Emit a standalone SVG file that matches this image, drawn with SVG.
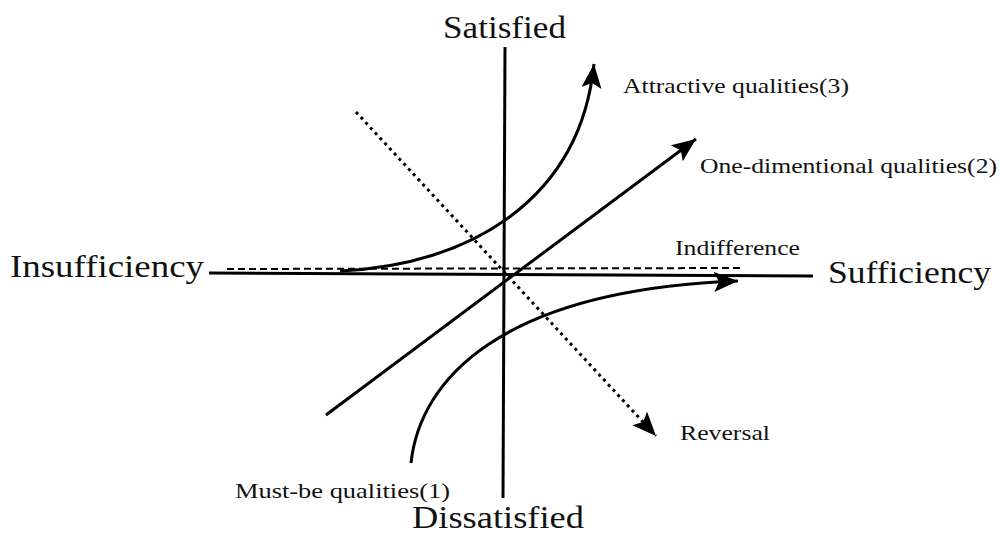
<svg xmlns="http://www.w3.org/2000/svg" width="1000" height="535" viewBox="0 0 1000 535">
  <style>
    .big { font-size: 31px; fill: #111; }
    .small { font-size: 22px; fill: #111; }
    .ax { stroke: #000; stroke-width: 3; fill: none; }
    .curve { stroke: #000; stroke-width: 3; fill: none; }
    .dash { stroke: #000; stroke-width: 2; fill: none; stroke-dasharray: 7 4; }
    .dot { stroke: #000; stroke-width: 3; fill: none; stroke-dasharray: 3 4; }
  </style>
  <defs>
    <marker id="arrow" markerUnits="userSpaceOnUse" markerWidth="26" markerHeight="22" refX="24" refY="10" orient="auto" viewBox="0 0 26 22">
      <path d="M0,0 L24,10 L0,20 L5,10 Z" fill="#000" stroke="none"/>
    </marker>
  </defs>
  <rect width="1000" height="535" fill="#fff"/>
  <g id="connectors">
    <line id="axis-v" class="ax" x1="505" y1="47" x2="503" y2="498"/>
    <line id="axis-h" class="ax" x1="209" y1="273" x2="813" y2="276"/>
    <line id="indifference-line" class="dash" x1="227" y1="269" x2="743" y2="268"/>
    <line id="reversal-line" class="dot" x1="356" y1="112" x2="656" y2="436" marker-end="url(#arrow)"/>
    <line id="one-dim-line" class="curve" x1="326" y1="415" x2="696" y2="139" marker-end="url(#arrow)"/>
    <path id="attractive-curve" class="curve" d="M340,271 C470,265 580,200 594,64" marker-end="url(#arrow)"/>
    <path id="must-be-curve" class="curve" d="M411,463 C420,380 500,290 738,281" marker-end="url(#arrow)"/>
  </g>
  <g id="satisfied"><text class="big" font-family="Liberation Serif, Times New Roman, serif" x="443" y="38" textLength="123" lengthAdjust="spacingAndGlyphs">Satisfied</text></g>
  <g id="dissatisfied"><text class="big" font-family="Liberation Serif, Times New Roman, serif" x="412" y="528" textLength="172" lengthAdjust="spacingAndGlyphs">Dissatisfied</text></g>
  <g id="insufficiency"><text class="big" font-family="Liberation Serif, Times New Roman, serif" x="10" y="277" textLength="194" lengthAdjust="spacingAndGlyphs">Insufficiency</text></g>
  <g id="sufficiency"><text class="big" font-family="Liberation Serif, Times New Roman, serif" x="828" y="283" textLength="163" lengthAdjust="spacingAndGlyphs">Sufficiency</text></g>
  <g id="attractive"><text class="small" font-family="Liberation Serif, Times New Roman, serif" x="623" y="93" textLength="226" lengthAdjust="spacingAndGlyphs">Attractive qualities(3)</text></g>
  <g id="one-dimentional"><text class="small" font-family="Liberation Serif, Times New Roman, serif" x="700" y="173" textLength="297" lengthAdjust="spacingAndGlyphs">One-dimentional qualities(2)</text></g>
  <g id="indifference"><text class="small" font-family="Liberation Serif, Times New Roman, serif" x="675" y="255" textLength="125" lengthAdjust="spacingAndGlyphs">Indifference</text></g>
  <g id="reversal"><text class="small" font-family="Liberation Serif, Times New Roman, serif" x="680" y="440" textLength="90" lengthAdjust="spacingAndGlyphs">Reversal</text></g>
  <g id="must-be"><text class="small" font-family="Liberation Serif, Times New Roman, serif" x="235" y="498" textLength="215" lengthAdjust="spacingAndGlyphs">Must-be qualities(1)</text></g>
</svg>
